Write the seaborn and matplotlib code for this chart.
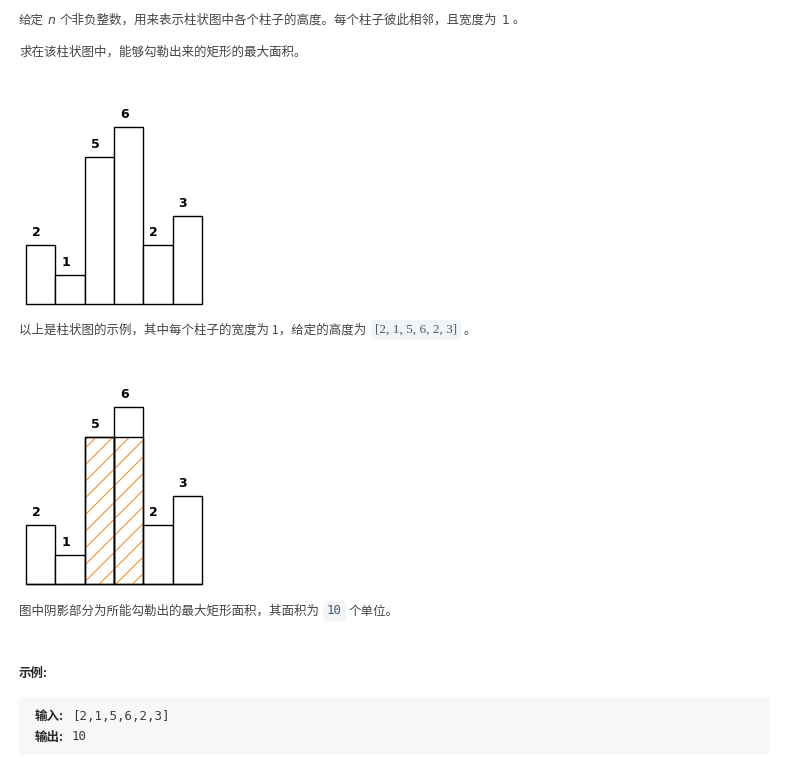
import matplotlib
matplotlib.use('Agg')
import matplotlib.pyplot as plt
import seaborn as sns
from matplotlib.patches import FancyBboxPatch

# data
bar_idx = ['0', '1', '2', '3', '4', '5']
heights = [2, 1, 5, 6, 2, 3]
max_rect = [0, 0, 5, 5, 0, 0]
example_input = '[2,1,5,6,2,3]'
example_output = '10'

sns.set_theme(style='white')
plt.rcParams['font.family'] = ['Noto Sans CJK SC', 'DejaVu Sans']
plt.rcParams['hatch.linewidth'] = 0.7

W, H = 788, 776
fig = plt.figure(figsize=(W / 100, H / 100), dpi=100)
fig.patch.set_facecolor('white')
renderer = fig.canvas.get_renderer()

TXT = '#454545'
FS = 9.0


def fx(x):
    return x / W


def fy(y):
    return 1 - y / H


def run(x, y, parts):
    # place text pieces one after another on a line
    for s, kw in parts:
        opts = dict(fontsize=FS, color=TXT, va='center')
        opts.update(kw)
        x += opts.pop('gap', 0)
        t = fig.text(fx(x), fy(y), s, **opts)
        x += t.get_window_extent(renderer).width
    return x


def draw_hist(bottom_px, shaded):
    ax = fig.add_axes([fx(26), fy(bottom_px), fx(176), 177 / H])
    sns.barplot(x=bar_idx, y=heights, width=1.0, color='white', saturation=1,
                edgecolor='black', linewidth=1.0, ax=ax)
    if shaded:
        n0 = len(ax.patches)
        sns.barplot(x=bar_idx, y=max_rect, width=1.0, color='white', saturation=1, ax=ax)
        for p in ax.patches[n0:]:
            p.set_facecolor('none')
            p.set_edgecolor('#ff7f0e')
            p.set_hatch('//')
            p.set_linewidth(0)
        n1 = len(ax.patches)
        sns.barplot(x=bar_idx, y=max_rect, width=1.0, color='white', saturation=1, ax=ax)
        for p in ax.patches[n1:]:
            p.set_facecolor('none')
            p.set_edgecolor('black')
            p.set_linewidth(1.0)
    for p in ax.patches:
        p.set_clip_on(False)
    for i, h in enumerate(heights):
        ax.text(i - 0.15, h + 0.42, str(h), ha='center', va='center',
                fontsize=9, fontweight='bold', color='black', family='DejaVu Sans')
    ax.set_xlim(-0.5, 5.5)
    ax.set_ylim(0, 6)
    ax.axis('off')
    return ax


# paragraph 1
run(19, 20, [('给定', {}), ('n', {'gap': 4, 'style': 'italic', 'family': 'DejaVu Sans'}),
             ('个非负整数，用来表示柱状图中各个柱子的高度。每个柱子彼此相邻，且宽度为', {'gap': 4}),
             ('1', {'gap': 4, 'family': 'DejaVu Sans'}), ('。', {'gap': 3})])
run(19, 52, [('求在该柱状图中，能够勾勒出来的矩形的最大面积。', {})])

draw_hist(304.3, False)

run(19, 330, [('以上是柱状图的示例，其中每个柱子的宽度为 1，给定的高度为', {}),
              ('[2, 1, 5, 6, 2, 3]', {'gap': 9, 'family': 'Liberation Serif', 'color': '#4a5a6e',
                                      'fontsize': 9.5,
                                      'bbox': dict(boxstyle='round,pad=0.3', fc='#f3f4f5', ec='none')}),
              ('。', {'gap': 6})])

draw_hist(584.3, True)

run(19, 611, [('图中阴影部分为所能勾勒出的最大矩形面积，其面积为', {}),
              ('10', {'gap': 8, 'family': 'DejaVu Sans Mono', 'color': '#4a5a6e', 'fontsize': 9,
                      'bbox': dict(boxstyle='round,pad=0.3', fc='#f3f4f5', ec='none')}),
              ('个单位。', {'gap': 7})])

fig.text(fx(19), fy(673), '示例:', fontsize=FS, fontweight='bold', color='#262626', va='center')

box = FancyBboxPatch((fx(19), fy(755)), fx(751), (755 - 697) / H,
                     boxstyle='round,pad=0,rounding_size=0.005', transform=fig.transFigure,
                     fc='#f7f8fa', ec='none')
fig.patches.append(box)

run(35, 716, [('输入:', {'fontweight': 'bold', 'color': '#262626', 'fontsize': 9}),
              (example_input, {'gap': 8, 'family': 'DejaVu Sans Mono', 'color': '#3c3c3c', 'fontsize': 9})])
run(35, 737, [('输出:', {'fontweight': 'bold', 'color': '#262626', 'fontsize': 9}),
              (example_output, {'gap': 8, 'family': 'DejaVu Sans Mono', 'color': '#3c3c3c', 'fontsize': 9})])

fig.savefig('out.png', dpi=100, facecolor='white')
